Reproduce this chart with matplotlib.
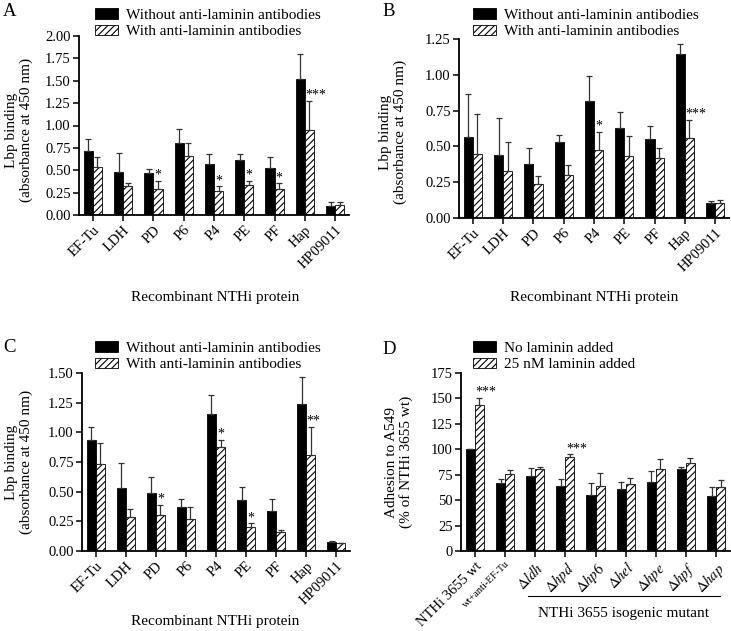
import numpy as np
import matplotlib
matplotlib.use("Agg")
import matplotlib.pyplot as plt
from matplotlib.lines import Line2D

plt.rcParams['font.family'] = ['Liberation Serif', 'DejaVu Serif']
plt.rcParams['mathtext.fontset'] = 'stix'
plt.rcParams['hatch.linewidth'] = 0.8

# ---- data ----
proteins = ['EF-Tu', 'LDH', 'PD', 'P6', 'P4', 'PE', 'PF', 'Hap', 'HP09011']

a_without = [0.72, 0.48, 0.465, 0.81, 0.566, 0.618, 0.52, 1.516, 0.104]
a_without_err = [0.125, 0.21, 0.045, 0.15, 0.115, 0.06, 0.13, 0.285, 0.045]
a_with = [0.536, 0.324, 0.287, 0.663, 0.264, 0.335, 0.29, 0.95, 0.112]
a_with_err = [0.115, 0.03, 0.093, 0.137, 0.056, 0.045, 0.064, 0.327, 0.037]
a_stars = ['', '', '*', '', '*', '*', '*', '***', '']

b_without = [0.569, 0.441, 0.374, 0.53, 0.82, 0.627, 0.55, 1.143, 0.102]
b_without_err = [0.298, 0.256, 0.112, 0.05, 0.174, 0.112, 0.091, 0.07, 0.014]
b_with = [0.448, 0.33, 0.237, 0.302, 0.476, 0.43, 0.418, 0.562, 0.102]
b_with_err = [0.277, 0.202, 0.058, 0.065, 0.128, 0.144, 0.072, 0.123, 0.021]
b_stars = ['', '', '', '', '*', '', '', '***', '']

c_without = [0.938, 0.531, 0.492, 0.374, 1.157, 0.427, 0.34, 1.242, 0.073]
c_without_err = [0.107, 0.213, 0.134, 0.064, 0.16, 0.11, 0.101, 0.224, 0.008]
c_with = [0.736, 0.289, 0.30, 0.267, 0.879, 0.202, 0.16, 0.812, 0.07]
c_with_err = [0.177, 0.065, 0.09, 0.101, 0.059, 0.031, 0.014, 0.233, 0.0]
c_stars = ['', '', '*', '', '*', '*', '', '**', '']

strains = ['NTHi 3655 wt', 'wt+anti-EF-Tu', r'$\Delta\mathit{ldh}$', r'$\Delta\mathit{hpd}$',
           r'$\Delta\mathit{hp6}$', r'$\Delta\mathit{hel}$', r'$\Delta\mathit{hpe}$',
           r'$\Delta\mathit{hpf}$', r'$\Delta\mathit{hap}$']
d_nolam = [100, 67.3, 74.2, 64, 55.5, 61.4, 68.3, 80.4, 54.5]
d_nolam_err = [0, 3.6, 7.2, 6.9, 11.1, 6.9, 10.5, 2.0, 8.5]
d_lam = [143.8, 75.8, 80.8, 92.9, 63.7, 66, 80.4, 86.3, 63.4]
d_lam_err = [6.6, 4.0, 1.6, 2.3, 12.8, 5.6, 10.2, 5.6, 6.2]
d_stars = ['***', '', '', '***', '', '', '', '', '']

W, H = 731, 631
fig = plt.figure(figsize=(W / 100, H / 100), dpi=100)


def px_axes(x0, x1, y0, y1):
    return fig.add_axes([x0 / W, 1 - y1 / H, (x1 - x0) / W, (y1 - y0) / H])


def draw_panel(ax, v1, e1, v2, e2, stars, ymax, ystep, fmt, labels, leg):
    x = np.arange(len(v1))
    bw = 0.3
    ekw = dict(ecolor='#333333', elinewidth=0.9, capsize=2.2, capthick=0.9)
    b1 = ax.bar(x - bw / 2, v1, bw, color='black', edgecolor='black', linewidth=0.6,
                yerr=[np.zeros(len(e1)), e1], error_kw=ekw, label=leg[0])
    b2 = ax.bar(x + bw / 2, v2, bw, color='white', edgecolor='black', linewidth=0.6,
                hatch='/////', yerr=[np.zeros(len(e2)), e2], error_kw=ekw, label=leg[1])
    for i, s in enumerate(stars):
        if s:
            top = v2[i] + e2[i] - ymax * 0.005
            if len(s) == 1:
                ax.text(x[i] + bw / 2, top, s, ha='center', va='bottom', fontsize=10)
            else:
                ax.text(x[i] + 0.02, top, s, ha='left', va='bottom', fontsize=10)
    ax.set_xlim(-0.46, 8.46)
    ax.set_ylim(0, ymax)
    ticks = np.arange(0, ymax + ystep / 2, ystep)
    ax.set_yticks(ticks)
    ax.set_yticklabels([fmt % t for t in ticks])
    ax.set_xticks(x)
    ax.set_xticklabels(labels, rotation=45, ha='right', rotation_mode='anchor')
    for side in ['top', 'right']:
        ax.spines[side].set_visible(False)
    for side in ['left', 'bottom']:
        ax.spines[side].set_linewidth(1.3)
    ax.tick_params(axis='both', length=4, width=1.1, labelsize=10.5, pad=2)
    return b1, b2


leg_ab = ['Without anti-laminin antibodies', 'With anti-laminin antibodies']

axA = px_axes(79, 349, 36, 215)
draw_panel(axA, a_without, a_without_err, a_with, a_with_err, a_stars, 2.0, 0.25, '%.2f', proteins, leg_ab)
axB = px_axes(459, 729, 39, 218)
draw_panel(axB, b_without, b_without_err, b_with, b_with_err, b_stars, 1.25, 0.25, '%.2f', proteins, leg_ab)
axC = px_axes(82, 350, 373, 551)
draw_panel(axC, c_without, c_without_err, c_with, c_with_err, c_stars, 1.5, 0.25, '%.2f', proteins, leg_ab)
axD = px_axes(461, 730, 373, 551)
draw_panel(axD, d_nolam, d_nolam_err, d_lam, d_lam_err, d_stars, 175, 25, '%d', strains,
           ['No laminin added', '25 nM laminin added'])
axD.get_xticklabels()[1].set_fontsize(7.5)

# legends
for ax, (lx, ly) in [(axA, (95, 8)), (axB, (473, 8)), (axC, (95, 341)), (axD, (473, 341))]:
    ax.legend(loc='upper left', bbox_to_anchor=(lx / W, 1 - ly / H), bbox_transform=fig.transFigure,
              frameon=False, fontsize=11, handlelength=1.5, handleheight=0.7,
              handletextpad=0.5, labelspacing=0.2, borderpad=0, borderaxespad=0)

# panel letters
for lab, (lx, ly) in [('A', (3, 12)), ('B', (382, 12)), ('C', (3, 348)), ('D', (382, 350))]:
    fig.text(lx / W, 1 - ly / H, lab, fontsize=13.5, ha='left', va='center')

# axis labels
ylab = 'Lbp binding\n(absorbance at 450 nm)'
for txt, (lx, ly) in [(ylab, (19, 130)), (ylab, (393, 132)), (ylab, (19, 462)),
                      ('Adhesion to A549\n(% of NTHi 3655 wt)', (399, 462))]:
    fig.text(lx / W, 1 - ly / H, txt, rotation=90, ha='center', va='center',
             multialignment='center', fontsize=11, linespacing=1.1)

xlab = 'Recombinant NTHi protein'
for lx, ly in [(215, 298), (594, 298), (215, 622)]:
    fig.text(lx / W, 1 - ly / H, xlab, ha='center', va='center', fontsize=11)

# mutant bracket in panel D
fig.add_artist(Line2D([528 / W, 720 / W], [1 - 596 / H, 1 - 596 / H], color='black', lw=0.8))
fig.text(624 / W, 1 - 614 / H, 'NTHi 3655 isogenic mutant', ha='center', va='center', fontsize=11)

fig.savefig('out.png', dpi=100, facecolor='white')
